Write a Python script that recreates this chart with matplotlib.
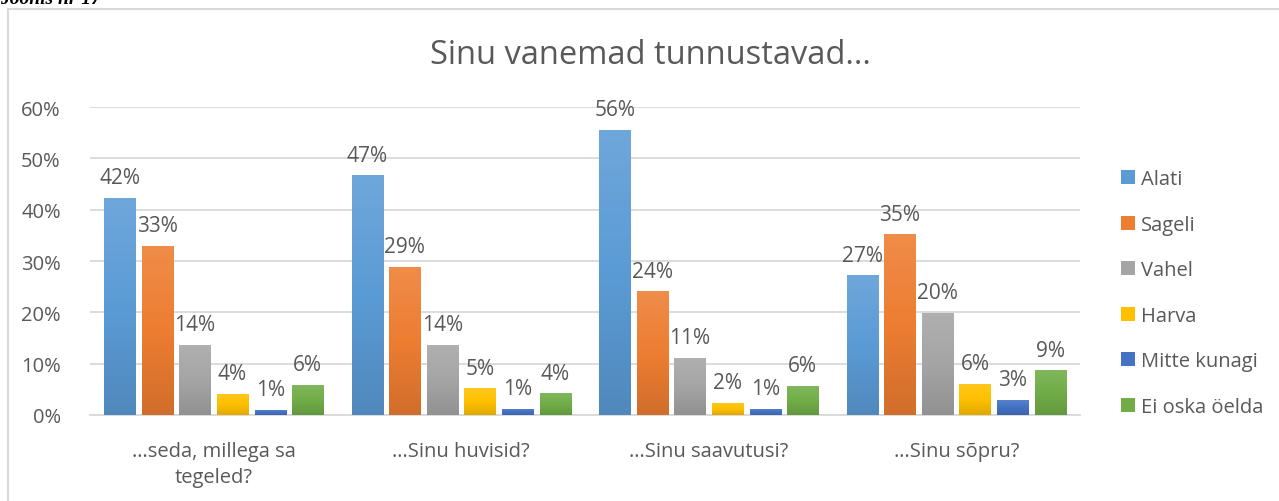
import matplotlib.pyplot as plt
import numpy as np
from matplotlib.colors import LinearSegmentedColormap, to_rgb
from matplotlib.patches import Rectangle

# Data (percent)
categories = ["…seda, millega sa\ntegeled?", "…Sinu huvisid?", "…Sinu saavutusi?", "…Sinu sõpru?"]
series = ["Alati", "Sageli", "Vahel", "Harva", "Mitte kunagi", "Ei oska öelda"]
alati = [42.3, 46.7, 55.6, 27.2]
sageli = [33.0, 28.9, 24.1, 35.2]
vahel = [13.6, 13.6, 11.2, 19.9]
harva = [4.1, 5.2, 2.4, 6.1]
mitte_kunagi = [1.0, 1.2, 1.2, 3.0]
ei_oska = [5.8, 4.2, 5.6, 8.7]
values = [alati, sageli, vahel, harva, mitte_kunagi, ei_oska]
colors = ["#5B9BD5", "#ED7D31", "#A5A5A5", "#FFC000", "#4472C4", "#70AD47"]

TXT = "#595959"
plt.rcParams["font.family"] = ["Open Sans", "DejaVu Sans"]

fig = plt.figure(figsize=(12.79, 5.02), dpi=100)
ax = fig.add_axes([90 / 1279, 86 / 502, 990 / 1279, 308 / 502])

# chart border and the cut-off caption above it
fig.patches.append(Rectangle((8 / 1279, -0.05), 1.2, (502 - 10) / 502 + 0.05,
                             transform=fig.transFigure, fill=False,
                             edgecolor="#D9D9D9", linewidth=1.5))
fig.text(0.0, 0.993, "Joonis nr 17", family="Liberation Serif", style="italic",
         fontweight="bold", fontsize=14, va="baseline", ha="left", color="black")


def shade(c, f):
    r = np.array(to_rgb(c))
    return tuple(np.clip(r * f if f < 1 else r + (1 - r) * (f - 1), 0, 1))


x = np.arange(len(categories))
pitch, width = 0.152, 0.126
grad = np.linspace(0, 1, 256).reshape(-1, 1)
for i, (name, vals, col) in enumerate(zip(series, values, colors)):
    xs = x + (i - 2.5) * pitch
    bars = ax.bar(xs, np.array(vals) / 100, width, color=col, label=name, zorder=2)
    cmap = LinearSegmentedColormap.from_list(name, [shade(col, 0.88), col, shade(col, 1.12)])
    for b, v in zip(bars, vals):
        im = ax.imshow(grad, cmap=cmap, origin="lower", aspect="auto", zorder=3,
                       extent=[b.get_x(), b.get_x() + width, 0, v / 100])
        im.set_clip_path(b)
        ax.text(b.get_x() + width / 2, v / 100 + 0.019, f"{v:.0f}%", ha="center",
                va="bottom", fontsize=15, color=TXT, zorder=4)

ax.set_xlim(-0.5, 3.5)
ax.set_ylim(0, 0.6)
ax.set_yticks(np.arange(0, 0.61, 0.1))
ax.set_yticklabels([f"{int(t * 100)}%" for t in np.arange(0, 0.61, 0.1)])
ax.set_xticks(x)
ax.set_xticklabels(categories, linespacing=1.35)
ax.tick_params(length=0, labelsize=14.5, colors=TXT, pad=19)
ax.tick_params(axis="y", pad=21)
ax.grid(axis="y", color="#D9D9D9", linewidth=1.3, zorder=0)
ax.set_axisbelow(True)
for s in ["top", "right", "left"]:
    ax.spines[s].set_visible(False)
ax.spines["bottom"].set_color("#D9D9D9")
ax.spines["bottom"].set_linewidth(1.3)

fig.text(650 / 1279, 1 - 55 / 502, "Sinu vanemad tunnustavad...", ha="center",
         va="center", fontsize=23.5, color=TXT)

handles, labels = ax.get_legend_handles_labels()
leg = fig.legend(handles, labels, loc="center left", bbox_to_anchor=(1103 / 1279, 1 - 294 / 502),
                 frameon=False, fontsize=14.5, labelspacing=1.27, handlelength=0.7,
                 handleheight=0.7, handletextpad=0.3, labelcolor=TXT)

fig.savefig("out.png", dpi=100)
